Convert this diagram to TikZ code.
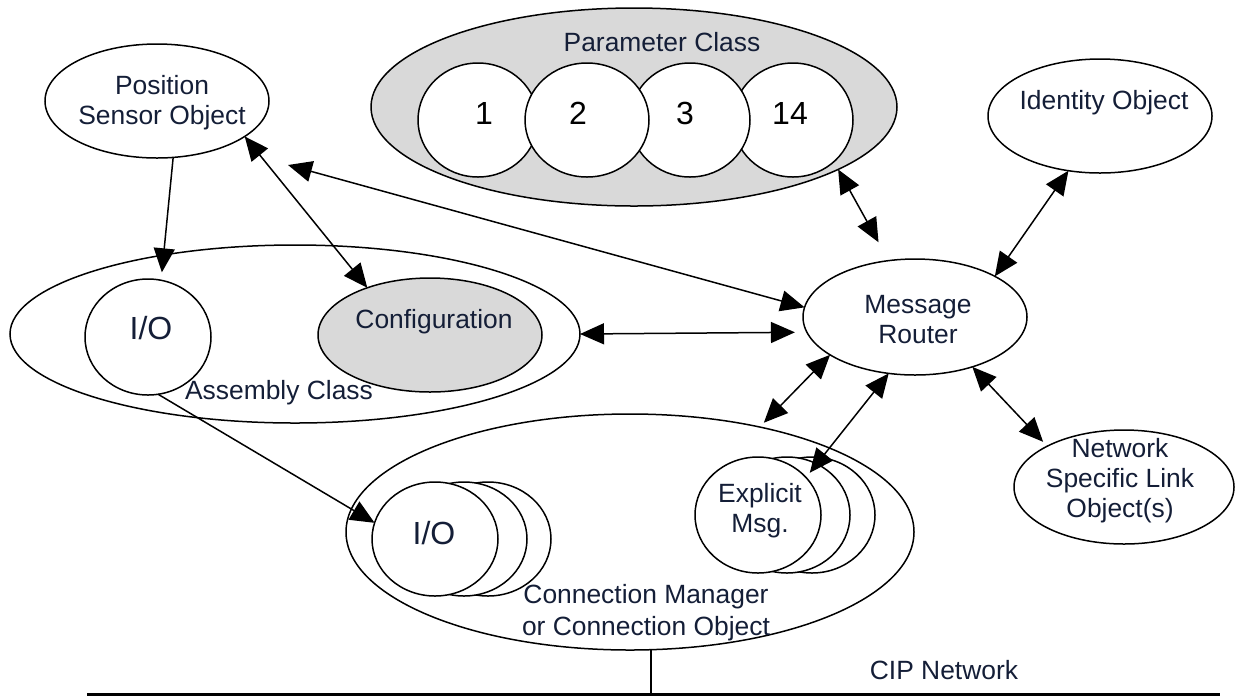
\documentclass[tikz,border=0pt]{standalone}
\usepackage{fontspec}
\setmainfont{Liberation Sans}
\usetikzlibrary{shapes.geometric,arrows.meta}
\definecolor{txt}{RGB}{20,30,55}
\definecolor{pgray}{RGB}{217,217,217}
\begin{document}
\begin{tikzpicture}[x=0.5pt,y=-0.5pt,
  ell/.style 2 args={ellipse,draw,line width=0.75pt,minimum width=#1pt,minimum height=#2pt,inner sep=0pt,outer sep=0pt},
  lbl/.style={text=txt,font=\fontsize{13.2}{15}\selectfont,align=center,inner sep=0pt},
  big/.style={font=\fontsize{16}{19}\selectfont,inner sep=0pt},
  conn/.style={line width=0.75pt,{Triangle[length=12pt,width=10.5pt]}-{Triangle[length=12pt,width=10.5pt]}},
  oneway/.style={line width=0.75pt,-{Triangle[length=12pt,width=10.5pt]}},
]
\useasboundingbox (0,0) rectangle (1237,698);
% shapes
\node[ell={112}{57}] (pso) at (157,101) {};
\node[ell={263}{99},fill=pgray] (param) at (634,107) {};
\node[ell={60}{57},fill=white] (c1) at (478,120) {};
\node[ell={60}{57},fill=white] (c14) at (793,120) {};
\node[ell={60}{57},fill=white] (c3) at (690,120) {};
\node[ell={62}{57},fill=white] (c2) at (587,120) {};
\node[ell={112}{57}] (ident) at (1100,116) {};
\node[ell={112}{58}] (mr) at (915,317) {};
\node[ell={285}{89}] (asm) at (295,334) {};
\node[ell={63}{58}] (aio) at (148,337) {};
\node[ell={112}{57},fill=pgray] (conf) at (430,335) {};
\node[ell={63}{57}] (cio3) at (488,539) {};
\node[ell={63}{57},fill=white] (cio2) at (464,539) {};
\node[ell={63}{57},fill=white] (cio) at (435,539) {};
\node[ell={63}{58}] (exp3) at (812,515) {};
\node[ell={63}{58},fill=white] (exp2) at (787,515) {};
\node[ell={63}{58},fill=white] (exp) at (758,515) {};
\node[ell={284}{118}] (cm) at (630,532) {};
\node[ell={110}{57}] (nsl) at (1124,487) {};
% texts
\node[lbl] (pso-t) at (162,103) {Position\\Sensor Object};
\node[lbl] (param-t) at (662,42) {Parameter Class};
\node[big] (n1) at (484,113) {1};
\node[big] (n2) at (578,113) {2};
\node[big] (n3) at (685,113) {3};
\node[big] (n14) at (790,113) {14};
\node[lbl] (ident-t) at (1104,103) {Identity Object};
\node[lbl] (mr-t) at (918,320) {Message\\Router};
\node[lbl] (conf-t) at (434,322) {Configuration};
\node[big,text=txt] (aio-t) at (151,328) {I/O};
\node[lbl] (asm-t) at (279,393) {Assembly Class};
\node[big,text=txt] (cio-t) at (434,533) {I/O};
\node[lbl] (exp-t) at (760,511) {Explicit\\Msg.};
\node[lbl] (nsl-t) at (1120,481) {Network\\Specific Link\\Object(s)};
\node[lbl,font=\fontsize{13.2}{16}\selectfont] (cm-t) at (646,613) {Connection Manager\\or Connection Object};
\node[lbl] (cip-t) at (944,670) {CIP Network};
% connectors
\coordinate (posfree) at (288,165);
\coordinate (busL) at (87,694);
\coordinate (busR) at (1220,694);
\draw[oneway,shorten >=4pt] (pso.-74.5) -- (aio.77.8);
\draw[conn] (pso.-22.8) -- (conf.143.4);
\draw[conn] (posfree) -- (mr.175);
\draw[conn,shorten >=6pt] (asm.0.8) -- (mr.188);
\draw[conn,shorten >=10.5pt] (param.-17.2) -- (mr.115);
\draw[conn] (ident.240.3) -- (mr.27.7);
\draw[conn,shorten >=3pt] (mr.-41.3) -- (nsl.152.9);
\draw[conn,shorten >=3pt] (mr.204) -- (cm.39.8);
\draw[conn,shorten >=3pt] (mr.245.6) -- (exp.38.4);
\draw[oneway] (aio.-80.2) -- (cio.165.7);
\draw[line width=1.5pt] (busL) -- (busR);
\draw[line width=1pt] (cm.-80) -- (cm.-80 |- busL);
\end{tikzpicture}
\end{document}
